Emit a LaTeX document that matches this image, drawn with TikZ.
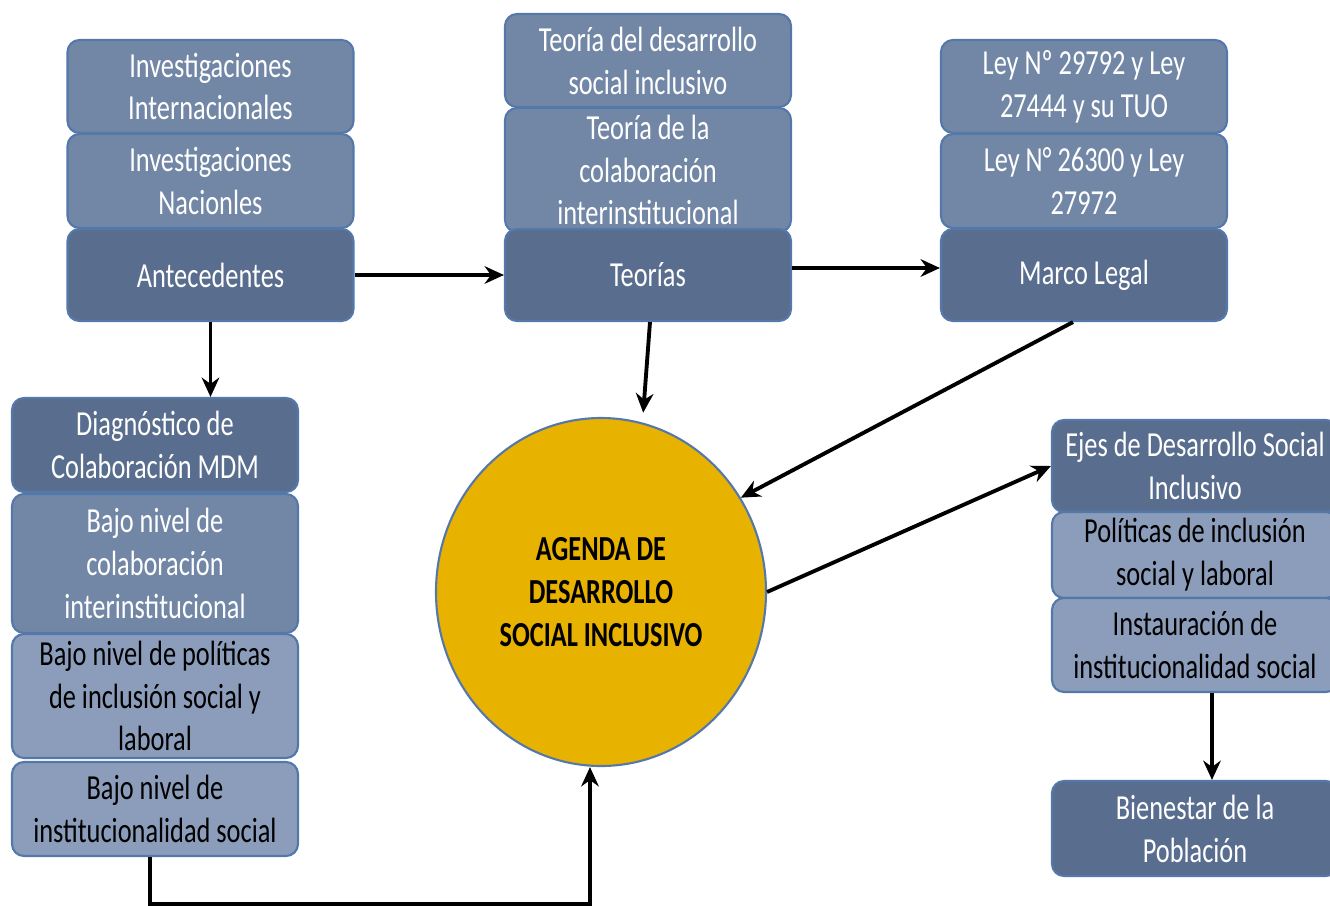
\documentclass[tikz,border=0pt]{standalone}
\usepackage{fontspec}
\setmainfont{Carlito}[FakeStretch=0.75]
\usetikzlibrary{shapes.geometric, arrows.meta}

\definecolor{darkblue}{RGB}{89,110,142}
\definecolor{midblue}{RGB}{114,135,166}
\definecolor{lightblue}{RGB}{139,157,186}
\definecolor{edgeblue}{RGB}{84,120,170}
\definecolor{gold}{RGB}{232,178,0}

\begin{document}
\begin{tikzpicture}[
        cell/.style={rectangle, rounded corners=0.12cm, draw=edgeblue, line width=0.6pt, minimum width=2.86cm, align=center, inner sep=1pt, font=\fontsize{10}{12.2}\selectfont},
        darkcell/.style={cell, fill=darkblue, text=white},
        midcell/.style={cell, fill=midblue, text=white},
        lightcell/.style={cell, fill=lightblue, text=black},
        link/.style={line width=1.1pt, ->, >={Stealth[length=5.5pt,width=5pt]}}
    ]
        \useasboundingbox (0,0) rectangle (13.3,-9.06);
        
        % Antecedentes column
        \node at (2.105,-0.865) [midcell, minimum height=0.93cm] (intl) {Investigaciones\\Internacionales};
        \node at (2.105,-1.81) [midcell, minimum height=0.94cm] (nac) {Investigaciones\\Nacionles};
        \node at (2.105,-2.75) [darkcell, minimum height=0.92cm] (ante) {Antecedentes};
        
        % Teorias column
        \node at (6.48,-0.605) [midcell, minimum height=0.93cm] (tdes) {Teoría del desarrollo\\social inclusivo};
        \node at (6.48,-1.70) [midcell, minimum height=1.24cm] (tcol) {Teoría de la\\colaboración\\interinstitucional};
        \node at (6.48,-2.75) [darkcell, minimum height=0.92cm] (teor) {Teorías};
        
        % Marco legal column
        \node at (10.84,-0.865) [midcell, minimum height=0.93cm] (ley1) {Ley Nº 29792 y Ley\\27444 y su TUO};
        \node at (10.84,-1.81) [midcell, minimum height=0.94cm] (ley2) {Ley N° 26300 y Ley\\27972};
        \node at (10.84,-2.75) [darkcell, minimum height=0.92cm] (marco) {Marco Legal};
        
        % Diagnostico column
        \node at (1.55,-4.45) [darkcell, minimum height=0.94cm] (diag) {Diagnóstico de\\Colaboración MDM};
        \node at (1.55,-5.635) [midcell, minimum height=1.39cm] (bcol) {Bajo nivel de\\colaboración\\interinstitucional};
        \node at (1.55,-6.96) [lightcell, minimum height=1.24cm] (bpol) {Bajo nivel de políticas\\de inclusión social y\\laboral};
        \node at (1.55,-8.09) [lightcell, minimum height=0.94cm] (binst) {Bajo nivel de\\institucionalidad social};
        
        % Agenda
        \node at (6.01,-5.92) [ellipse, fill=gold, draw=edgeblue, line width=0.6pt, minimum width=3.3cm, minimum height=3.48cm, align=center, font=\bfseries\fontsize{10}{12.2}\selectfont] (agenda) {AGENDA DE\\DESARROLLO\\SOCIAL INCLUSIVO};
        
        % Ejes column
        \node at (11.95,-4.66) [darkcell, minimum height=0.92cm] (ejes) {Ejes de Desarrollo Social\\Inclusivo};
        \node at (11.95,-5.55) [lightcell, minimum height=0.86cm] (polit) {Políticas de inclusión\\social y laboral};
        \node at (11.95,-6.45) [lightcell, minimum height=0.94cm] (instau) {Instauración de\\institucionalidad social};
        \node at (11.95,-8.285) [darkcell, minimum height=0.95cm] (bien) {Bienestar de la\\Población};
        
        % Arrows
        \draw [link] (ante.east) -- (teor.west);
        \draw [link] ([yshift=0.07cm]teor.east) -- ([yshift=0.07cm]marco.west);
        \draw [link] (ante.south) -- (ante.south |- diag.north);
        \draw [link] ([xshift=0.02cm]teor.south) -- ([yshift=0.1cm]agenda.76);
        \draw [link] ([xshift=-0.11cm]marco.south) -- (agenda.34);
        \draw [link] (agenda.east) -- (ejes.west);
        \draw [link] ([xshift=0.17cm]instau.south) -- ([xshift=0.17cm]bien.north);
        \draw [link] ([xshift=-0.05cm]binst.south) -- ++(0,-0.47) -| ([xshift=-0.11cm]agenda.south);
        
    \end{tikzpicture}
\end{document}
